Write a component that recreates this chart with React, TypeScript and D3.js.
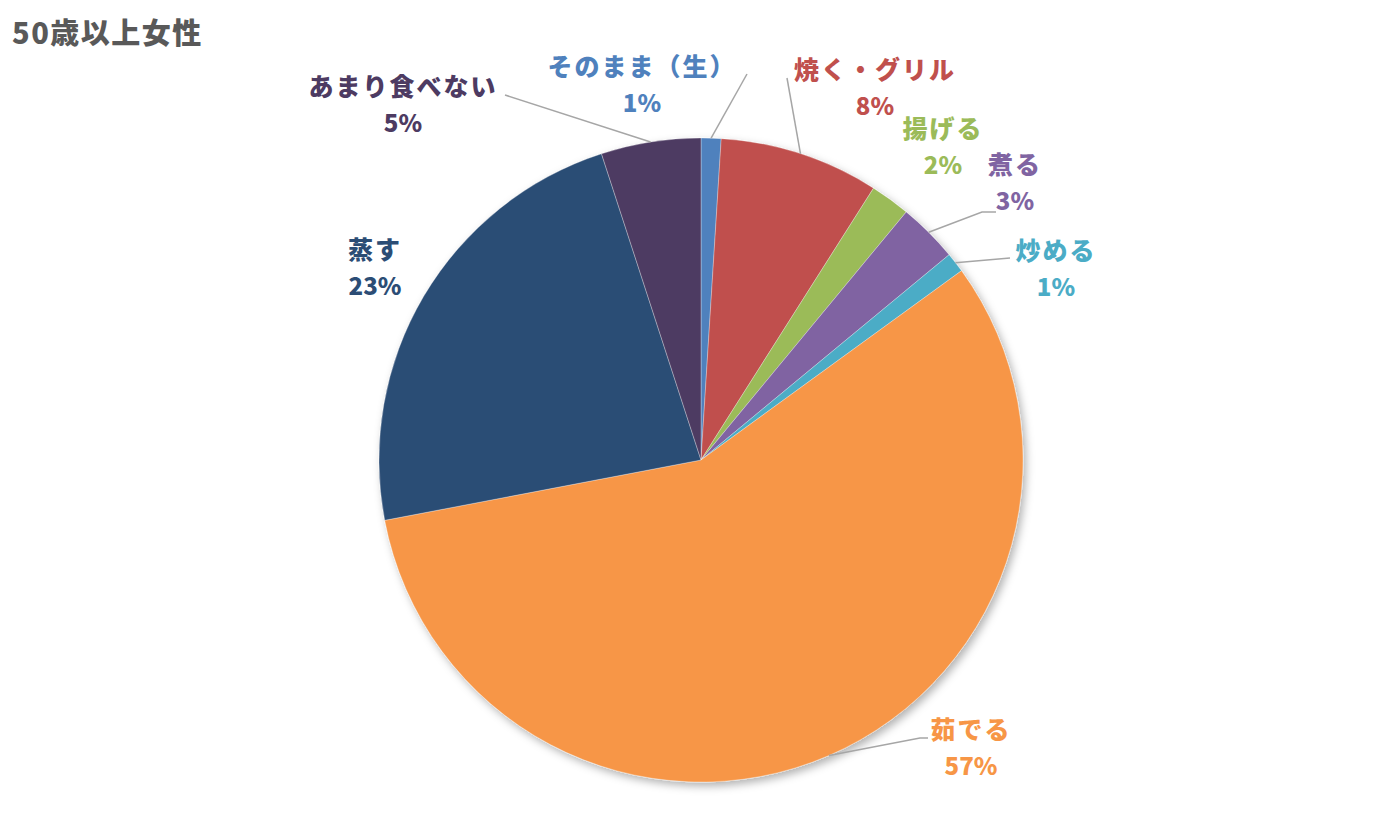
import React from 'react';
import * as d3 from 'd3';

// 調理法の割合（50歳以上女性）
const categories = ['そのまま（生）', '焼く・グリル', '揚げる', '煮る', '炒める', '茹でる', '蒸す', 'あまり食べない'];
const shares = [1, 8, 2, 3, 1, 57, 23, 5];
const sliceColors = ['#4F81BD', '#C0504D', '#9BBB59', '#8064A2', '#4BACC6', '#F79646', '#2C4D75', '#4D3B62'];
const title = '50歳以上女性';

// label layout (centre x, baseline y of the name line)
const labelAt: [number, number][] = [
    [642, 76], [875, 79], [943, 138], [1015, 174],
    [1056, 260], [971, 739], [375, 259], [403, 96],
];
// leader line elbow points, null = no leader line
const leaderTo: ([number, number][] | null)[] = [
    [[747, 74]],
    [[787, 78]],
    null,
    [[982, 212], [996, 212]],
    [[1010, 258]],
    [[920, 738], [928, 738]],
    null,
    [[505, 95]],
];

const W = 1400;
const H = 840;
const cx = 701;
const cy = 460;
const R = 322;
const FONT = '"Noto Sans CJK JP", "Noto Sans", sans-serif';

export default function App() {
    const pie = d3.pie<number>().sort(null).value(d => d).startAngle(0).endAngle(2 * Math.PI);
    const arcs = pie(shares);
    const arc = d3.arc<d3.PieArcDatum<number>>().innerRadius(0).outerRadius(R);
    const total = d3.sum(shares);
    const pct = (v: number) => `${Math.round((v / total) * 100)}%`;

    const edgePoint = (a: d3.PieArcDatum<number>): [number, number] => {
        const m = (a.startAngle + a.endAngle) / 2;
        return [cx + R * Math.sin(m), cy - R * Math.cos(m)];
    };

    return (
        <svg width={W} height={H} style={{ position: 'absolute', left: 0, top: 0, background: '#fff' }}>
            <defs>
                <filter id="pieShadow" x="-10%" y="-10%" width="125%" height="125%">
                    <feDropShadow dx="3" dy="4" stdDeviation="4" floodColor="#000" floodOpacity="0.3" />
                </filter>
            </defs>

            <text x={12} y={44} fontFamily={FONT} fontWeight={900} fontSize={29}
                letterSpacing={1.5} fill="#595959">{title}</text>

            <g transform={`translate(${cx},${cy})`} filter="url(#pieShadow)">
                {arcs.map((a, i) => (
                    <path key={i} d={arc(a) || ''} fill={sliceColors[i]}
                        stroke="#ffffff" strokeWidth={0.6} strokeOpacity={0.5} />
                ))}
            </g>

            {arcs.map((a, i) => {
                const pts = leaderTo[i];
                if (!pts) return null;
                const line = d3.line()([edgePoint(a), ...pts]);
                return <path key={i} d={line || ''} fill="none" stroke="#A6A6A6" strokeWidth={1.5} />;
            })}

            {arcs.map((a, i) => {
                const [x, y] = labelAt[i];
                return (
                    <g key={i} fontFamily={FONT} fontWeight={900} fill={sliceColors[i]} textAnchor="middle">
                        <text x={x} y={y} fontSize={25} letterSpacing={2}>{categories[i]}</text>
                        <text x={x} y={y + 36} fontSize={24}>{pct(a.data)}</text>
                    </g>
                );
            })}
        </svg>
    );
}
